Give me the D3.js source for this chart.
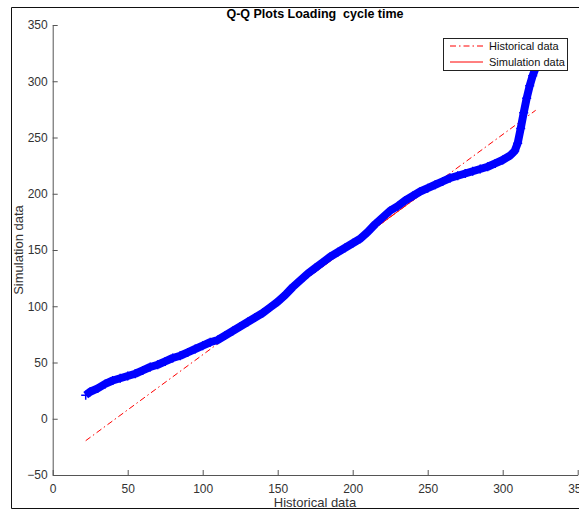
<!DOCTYPE html>
<html>
<head>
<meta charset="utf-8">
<script src="https://cdn.jsdelivr.net/npm/d3@7"></script>
<style>
  html, body { margin: 0; padding: 0; background: #fff; }
  svg { display: block; font-family: "Liberation Sans", Arial, Helvetica, sans-serif; }
</style>
</head>
<body>
<svg id="chart" width="579" height="510"></svg>
<script>
// Sorted quantile pairs: historical (x) against simulated (y) loading cycle times
const histQuantiles = [22, 25, 30, 35, 40, 45, 50, 55, 60, 65, 70, 75, 80, 85, 90, 95, 100, 105, 110, 115,
  120, 125, 130, 135, 140, 145, 150, 155, 160, 165, 170, 175, 180, 185, 190, 195, 200, 205, 210, 215,
  220, 225, 230, 235, 240, 245, 250, 255, 260, 265, 270, 275, 280, 285, 290, 295, 300, 305, 308, 310,
  312, 314, 316, 318, 320, 322];
const simQuantiles = [21, 24, 27, 31, 34, 36, 38, 40, 43, 46, 48, 51, 54, 56, 59, 62, 65, 68, 70, 74,
  78, 82, 86, 90, 94, 99, 104, 110, 117, 123, 129, 134, 139, 144, 148, 152, 156, 160, 166, 173,
  179, 185, 189, 194, 198, 202, 205, 208, 211, 214, 216, 218, 220, 222, 224, 227, 230, 234, 238, 245,
  258, 272, 285, 296, 305, 312];

// Reference line: solid between the quartile points, dash-dot over the full data range
const quartileX = [110, 250];
const quartileY = [66.7, 203.8];
const extentX = [22, 322];
const extentY = [-19.5, 274.2];

const xTicks = [0, 50, 100, 150, 200, 250, 300, 350];
const yTicks = [-50, 0, 50, 100, 150, 200, 250, 300, 350];
const legendLabels = ["Historical data", "Simulation data"];

const svg = d3.select("#chart");
const x = d3.scaleLinear().domain([0, 350]).range([52.7, 577.7]);
const y = d3.scaleLinear().domain([-50, 350]).range([475, 25]);

// Figure frame
svg.append("path")
  .attr("d", "M11.5,508.5 L11.5,7.5 L579,7.5 M11.5,508.5 L579,508.5")
  .attr("fill", "none").attr("stroke", "#111").attr("stroke-width", 1);

// Axes with inward ticks
const xAxis = svg.append("g").attr("transform", `translate(0,${y(-50)})`)
  .call(d3.axisBottom(x).tickValues(xTicks).tickSizeInner(-5).tickSizeOuter(0).tickPadding(9.5));
const yAxis = svg.append("g").attr("transform", `translate(${x(0)},0)`)
  .call(d3.axisLeft(y).tickValues(yTicks).tickSizeInner(-5).tickSizeOuter(0).tickPadding(5));
[xAxis, yAxis].forEach(g => {
  g.selectAll("path, line").attr("stroke", "#555").attr("stroke-width", 1);
  g.selectAll("text").attr("fill", "#333").style("font-size", "12px")
    .style("font-family", '"Liberation Sans", Arial, sans-serif');
});

// Reference lines
const line = d3.line().x(d => x(d[0])).y(d => y(d[1]));
svg.append("path")
  .attr("d", line(d3.zip(extentX, extentY)))
  .attr("fill", "none").attr("stroke", "#ff0000").attr("stroke-width", 1)
  .attr("stroke-dasharray", "6,3,1.5,3");
svg.append("path")
  .attr("d", line(d3.zip(quartileX, quartileY)))
  .attr("fill", "none").attr("stroke", "#ff0000").attr("stroke-width", 1);

// Quantile points drawn as dense '+' markers
const pts = d3.zip(histQuantiles, simQuantiles);
svg.append("path")
  .attr("d", line(pts))
  .attr("fill", "none").attr("stroke", "#0000ff").attr("stroke-width", 8)
  .attr("stroke-linejoin", "round");
const m = 4.5;
svg.append("g").selectAll("path").data(pts).join("path")
  .attr("d", d => `M${x(d[0]) - m},${y(d[1])}h${2 * m}M${x(d[0])},${y(d[1]) - m}v${2 * m}`)
  .attr("stroke", "#0000ff").attr("stroke-width", 1.5);

// Title and axis labels
svg.append("text").attr("x", 315).attr("y", 18).attr("text-anchor", "middle")
  .style("font-size", "12.5px").style("font-weight", "bold").style("white-space", "pre")
  .text("Q-Q Plots Loading  cycle time");
svg.append("text").attr("x", 315).attr("y", 507).attr("text-anchor", "middle")
  .attr("fill", "#333").style("font-size", "13px").text("Historical data");
svg.append("text").attr("transform", "translate(23,250) rotate(-90)").attr("text-anchor", "middle")
  .attr("fill", "#333").style("font-size", "13px").text("Simulation data");

// Legend
const lg = svg.append("g");
lg.append("rect").attr("x", 443.5).attr("y", 38.5).attr("width", 124).attr("height", 32)
  .attr("fill", "#fff").attr("stroke", "#222").attr("stroke-width", 1);
const dashes = ["6,3,1.5,3", null];
legendLabels.forEach((lab, i) => {
  const yy = 46 + i * 16;
  lg.append("line").attr("x1", 450).attr("x2", 483).attr("y1", yy).attr("y2", yy)
    .attr("stroke", "#ff0000").attr("stroke-width", 1).attr("stroke-dasharray", dashes[i]);
  lg.append("text").attr("x", 489).attr("y", yy + 4).style("font-size", "11px").attr("fill", "#111").text(lab);
});
</script>
</body>
</html>
